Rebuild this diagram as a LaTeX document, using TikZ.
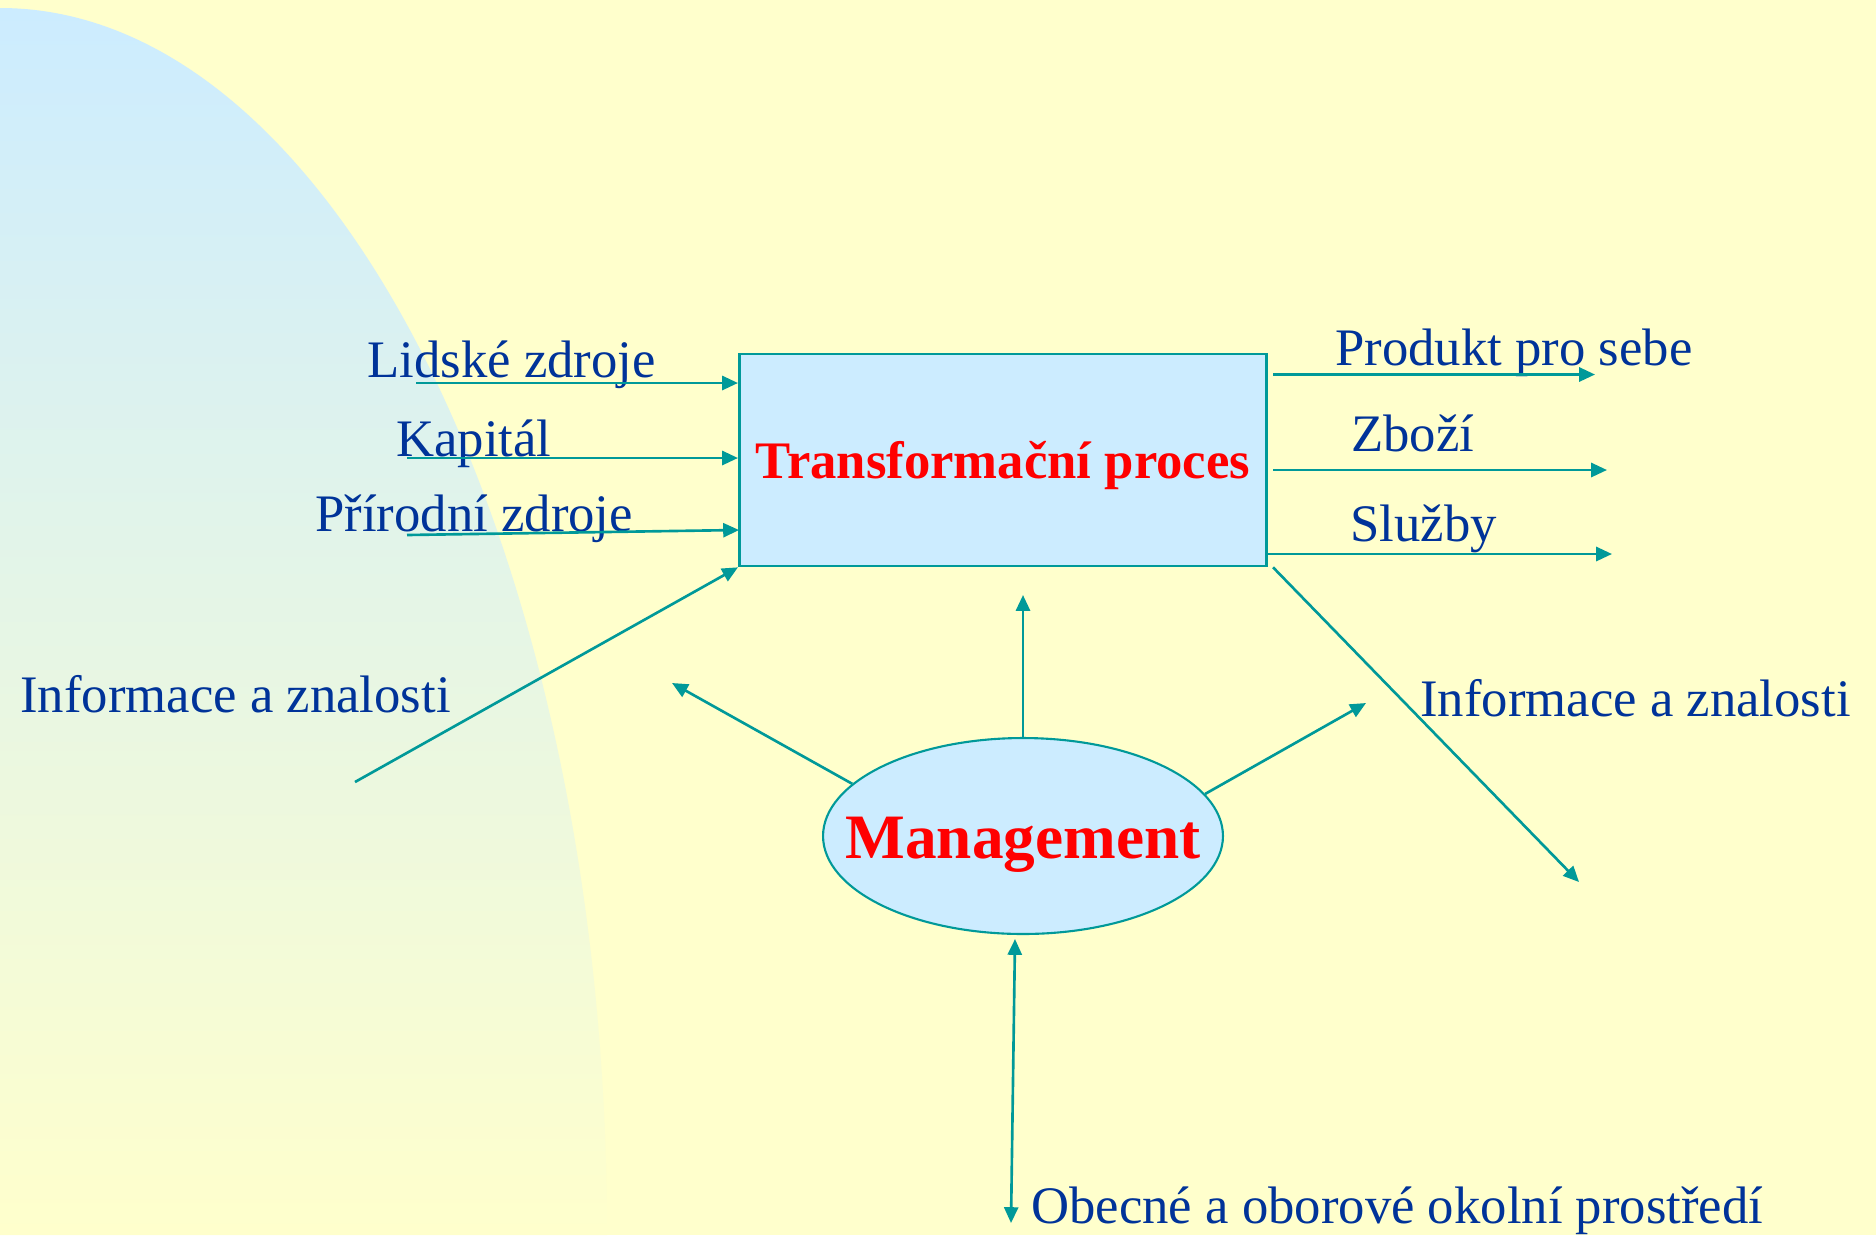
\documentclass[tikz,border=0pt]{standalone}
\usepackage{xcolor}
\usepackage{fontspec}
\setmainfont{Liberation Serif}
\usepackage{tikz}
\usetikzlibrary{positioning, arrows.meta, shapes.geometric, calc}

\begin{document}
\begin{tikzpicture}[x=0.02cm, y=-0.02cm, every node/.style={font=\fontsize{30}{36}\selectfont}]
  % Define colors
  \definecolor{colBg}{RGB}{255,255,204}    % background - pale yellow
  \definecolor{colSky}{RGB}{204,236,255}   % light blue fill
  \definecolor{colLine}{RGB}{0,153,153}    % arrows - teal
  \definecolor{colText}{RGB}{0,51,153}     % labels - dark blue
  \tikzset{
    >={Triangle[length=9pt,width=8pt]},
    flow/.style={colLine, line width=1.5pt, ->},
    lbl/.style={text=colText, inner sep=0pt, anchor=base west},
    title/.style={text=red, font=\fontsize{#1}{#1}\selectfont\bfseries}
  }

  % Background with the shaded curve
  \fill[colBg] (0,0) rectangle (1876,1235);
  \useasboundingbox (0,0) rectangle (1876,1235);
  \shade[top color=colSky, bottom color=colBg] (0,1235) -- (0,8)
    arc[start angle=-90, end angle=0, x radius=607, y radius=1227] -- cycle;

  % Process box and management ellipse
  \node[draw=colLine, line width=1.5pt, fill=colSky, inner sep=2pt,
        minimum width=10.55cm, minimum height=4.24cm,
        text height=21pt, text depth=0pt, title=30] (proc) at (1003,460) {Transformační proces};
  \node[ellipse, draw=colLine, line width=1.2pt, fill=colSky,
        minimum width=8cm, minimum height=3.92cm,
        label={[title=36, text height=26pt, text depth=0pt]center:Management}] (mgmt) at (1023,836) {};

  % Inputs
  \node[lbl] (lidske) at (367,377) {Lidské zdroje};
  \node[lbl] (kapital) at (396,456) {Kapitál};
  \node[lbl] (prirodni) at (315,531) {Přírodní zdroje};
  \node[lbl] (infoL) at (20,712) {Informace a znalosti};
  \coordinate (in1) at (416,383);
  \coordinate (in2) at (407,458);
  \coordinate (in3) at (407,535);
  \coordinate (in3e) at (739,530);
  \coordinate (in4) at (355,782);
  \foreach \c in {in1,in2} {
    \draw[flow] (\c) -- (\c -| proc.west);
  }
  \draw[flow] (in3) -- (in3e);
  \draw[flow] (in4) -- (proc.south west);

  % Outputs
  \node[lbl] (produkt) at (1335,365) {Produkt pro sebe};
  \node[lbl] (zbozi) at (1351,451) {Zboží};
  \node[lbl] (sluzby) at (1350,541) {Služby};
  \node[lbl] (infoR) at (1420,716) {Informace a znalosti};
  \coordinate (out1) at (1595,374.5);
  \coordinate (out2) at (1607,470);
  \coordinate (out3) at (1612,554);
  \coordinate (out4) at (1579,882);
  \foreach \c in {out1,out2} {
    \draw[flow] ([xshift=0.1cm]proc.east |- \c) -- (\c);
  }
  \draw[flow] (proc.east |- out3) -- (out3);
  \draw[flow] ([xshift=0.1cm]proc.south east) -- (out4);

  % Management arrows
  \coordinate (up) at (1023,595);
  \coordinate (upL) at (672,683);
  \coordinate (upR) at (1366,703);
  \draw[flow] (mgmt.north) -- (up);
  \draw[flow] (mgmt.163) -- (upL);
  \draw[flow] (mgmt.13) -- (upR);

  % Environment
  \node[lbl] (okoli) at (1031,1223) {Obecné a oborové okolní prostředí};
  \coordinate (envT) at (1015,939);
  \coordinate (envB) at (1011,1223);
  \draw[flow, <->] (envT) -- (envB);
\end{tikzpicture}
\end{document}
